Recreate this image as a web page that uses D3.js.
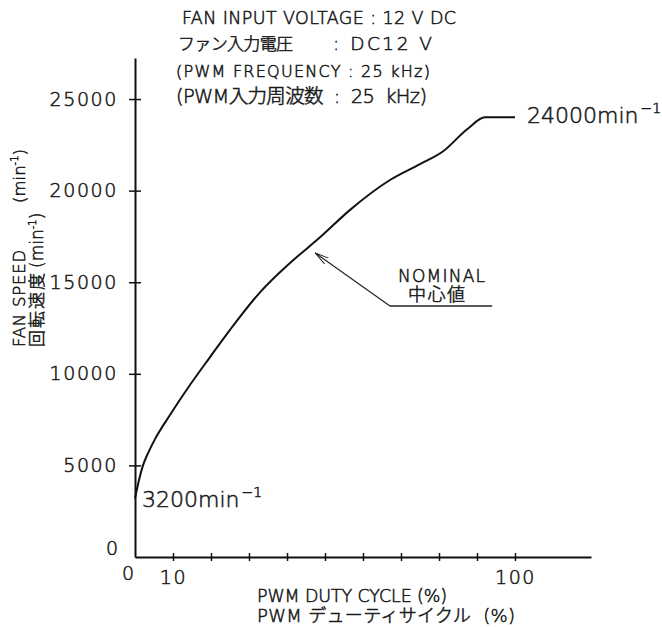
<!DOCTYPE html>
<html>
<head>
<meta charset="utf-8">
<title>Fan speed vs PWM duty cycle</title>
<script src="https://cdnjs.cloudflare.com/ajax/libs/d3/7.8.5/d3.min.js"></script>
<style>
  body { margin: 0; background: #fff; }
  text { font-family: "DejaVu Sans", "Noto Sans CJK JP", sans-serif; font-weight: 200; fill: #1a1a1a;
         stroke: #1a1a1a; stroke-width: 0.55px; }
</style>
</head>
<body>
<div id="chart"></div>
<script>
// PWM duty (%) vs fan speed (min-1)
var duty  = [0, 1, 2.1, 3.5, 5.3, 9.2, 14.5, 19.7, 25, 32.9, 40.8, 48.7, 56.6, 67.1, 75, 81.1, 87.4, 92.1, 100];
var speed = [3200, 4150, 5000, 5700, 6450, 7750, 9400, 10900, 12400, 14450, 16050, 17450, 18950, 20580, 21450, 22150, 23350, 24000, 24000];

var xTicks = [10, 20, 30, 40, 50, 60, 70, 80, 90, 100];
var xTickLabels = [10, 100];
var yTicks = [5000, 10000, 15000, 20000, 25000];

var width = 662, height = 627;

var svg = d3.select("#chart").append("svg")
    .attr("width", width)
    .attr("height", height);

var x = d3.scaleLinear().domain([0, 120]).range([135, 591]);
var y = d3.scaleLinear().domain([0, 27240]).range([557, 58]);

// y axis
var yAxis = d3.axisLeft(y)
    .tickValues(yTicks)
    .tickSizeInner(0)
    .tickSizeOuter(0)
    .tickPadding(17)
    .tickFormat(d3.format("d"));

var gy = svg.append("g")
    .attr("transform", "translate(" + x(0) + ",0)")
    .call(yAxis);
gy.select(".domain").attr("stroke", "#111").attr("stroke-width", 2);
gy.selectAll(".tick line").attr("x1", -6).attr("x2", 6).attr("stroke", "#111").attr("stroke-width", 1.5);
gy.selectAll(".tick text")
    .attr("font-size", 19).attr("letter-spacing", 1.6)
    .attr("font-family", "DejaVu Sans").attr("fill", "#222");

// x axis
var xAxis = d3.axisBottom(x)
    .tickValues(xTicks)
    .tickSizeInner(0)
    .tickSizeOuter(0)
    .tickPadding(14)
    .tickFormat(function(d) { return xTickLabels.indexOf(d) >= 0 ? d : ""; });

var gx = svg.append("g")
    .attr("transform", "translate(0," + y(0) + ")")
    .call(xAxis);
gx.select(".domain").attr("stroke", "#111").attr("stroke-width", 2);
gx.selectAll(".tick line").attr("y1", -4).attr("y2", 4).attr("stroke", "#111").attr("stroke-width", 1.5);
gx.selectAll(".tick text")
    .attr("font-size", 19).attr("letter-spacing", 1.6)
    .attr("font-family", "DejaVu Sans").attr("fill", "#222");

// the two zeros
svg.append("text").attr("x", x(0) - 29).attr("y", y(0) - 2)
    .attr("font-size", 19).text("0");
svg.append("text").attr("x", x(0) - 7).attr("y", y(0) + 23)
    .attr("font-size", 19).attr("text-anchor", "middle").text("0");

// curve
var pts = duty.map(function(d, i) { return [d, speed[i]]; });
var line = d3.line()
    .x(function(d) { return x(d[0]); })
    .y(function(d) { return y(d[1]); })
    .curve(d3.curveMonotoneX);

svg.append("path")
    .datum(pts)
    .attr("d", line)
    .attr("fill", "none")
    .attr("stroke", "#111")
    .attr("stroke-width", 2);

// end point labels
function speedLabel(px, py, main) {
  var t = svg.append("text").attr("x", px).attr("y", py).attr("font-size", 22);
  t.append("tspan").text(main);
  t.append("tspan").attr("font-size", 14).attr("dy", -10).attr("dx", 2).text("−1");
}
speedLabel(x(0) + 7, y(speed[0]) + 9, "3200min");
speedLabel(x(100) + 12, y(24000) + 6, "24000min");

// NOMINAL annotation
var defs = svg.append("defs");
defs.append("marker")
    .attr("id", "arr")
    .attr("viewBox", "0 0 14 10")
    .attr("refX", 14).attr("refY", 5)
    .attr("markerWidth", 14).attr("markerHeight", 10)
    .attr("markerUnits", "userSpaceOnUse")
    .attr("orient", "auto")
  .append("path")
    .attr("d", "M0,1.5 L14,5 L0,8.5")
    .attr("fill", "none").attr("stroke", "#222").attr("stroke-width", 1);

var nomStart = [67.1, 13700], nomTip = [47.4, 16600], nomEnd = [94, 13700];
svg.append("line")
    .attr("x1", x(nomStart[0])).attr("y1", y(nomStart[1]))
    .attr("x2", x(nomTip[0])).attr("y2", y(nomTip[1]))
    .attr("stroke", "#222").attr("stroke-width", 1.2)
    .attr("marker-end", "url(#arr)");
svg.append("line")
    .attr("x1", x(nomStart[0])).attr("y1", y(nomStart[1]))
    .attr("x2", x(nomEnd[0])).attr("y2", y(nomEnd[1]))
    .attr("stroke", "#222").attr("stroke-width", 1.5);

svg.append("text").attr("x", 398).attr("y", 282)
    .attr("font-size", 17).attr("textLength", 87).text("NOMINAL");
svg.append("text").attr("x", 408).attr("y", 301)
    .attr("font-size", 18).attr("textLength", 57).text("中心値");

// header text
var header = svg.append("g");
header.append("text").attr("x", 182).attr("y", 24).attr("font-size", 17.5)
    .attr("textLength", 274)
    .text("FAN INPUT VOLTAGE : 12 V DC");
header.append("text").attr("x", 178).attr("y", 50).attr("font-size", 17)
    .attr("textLength", 115)
    .text("ファン入力電圧");
header.append("text").attr("x", 333).attr("y", 50).attr("font-size", 18.5)
    .attr("textLength", 99)
    .text(": DC12 V");
header.append("text").attr("x", 176).attr("y", 77).attr("font-size", 16)
    .attr("textLength", 254)
    .text("(PWM FREQUENCY : 25 kHz)");
header.append("text").attr("x", 176).attr("y", 103).attr("font-size", 19.5)
    .attr("textLength", 251)
    .attr("xml:space", "preserve")
    .text("(PWM入力周波数  :  25  kHz)");

// x axis title
svg.append("text").attr("x", 257).attr("y", 602).attr("font-size", 17.5)
    .attr("textLength", 190)
    .text("PWM DUTY CYCLE (%)");
svg.append("text").attr("x", 257).attr("y", 622).attr("font-size", 18)
    .attr("textLength", 258)
    .attr("xml:space", "preserve")
    .text("PWM デューティサイクル  (%)");

// y axis title (rotated)
var yt1 = svg.append("text")
    .attr("transform", "translate(25,347) rotate(-90)")
    .attr("font-size", 16.5);
yt1.append("tspan").attr("letter-spacing", 0.8).text("FAN SPEED");
yt1.append("tspan").attr("dx", 46).text("(min");
yt1.append("tspan").attr("font-size", 10).attr("dy", -7).text("-1");
yt1.append("tspan").attr("dy", 7).text(")");

var yt2 = svg.append("text")
    .attr("transform", "translate(43,347) rotate(-90)")
    .attr("font-size", 17);
yt2.append("tspan").attr("letter-spacing", 2).text("回転速度");
yt2.append("tspan").attr("dx", 3).text("(min");
yt2.append("tspan").attr("font-size", 10).attr("dy", -7).text("-1");
yt2.append("tspan").attr("dy", 7).text(")");
</script>
</body>
</html>
